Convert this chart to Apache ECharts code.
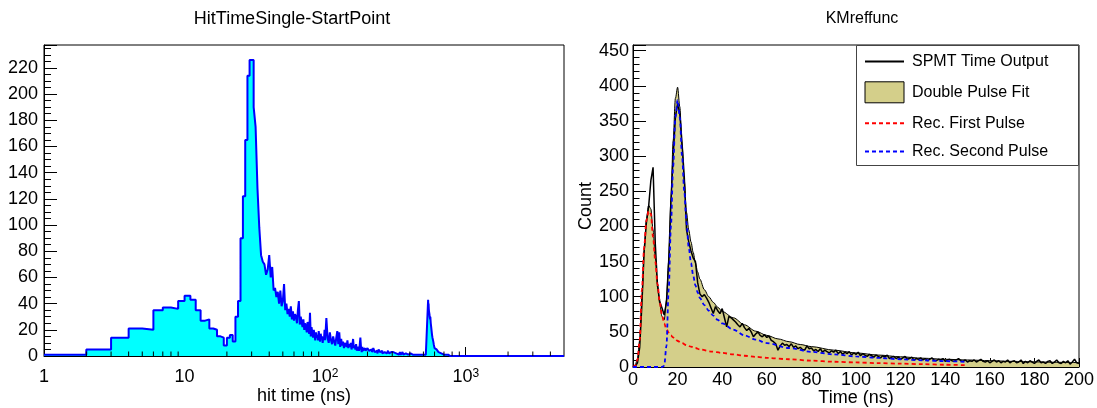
<!DOCTYPE html>
<html><head><meta charset="utf-8">
<script src="https://cdn.jsdelivr.net/npm/echarts@6/dist/echarts.min.js"></script>
<style>html,body{margin:0;padding:0;background:#fff}#c{width:1097px;height:408px}</style>
</head><body><div id="c"></div>
<script>
// ---------------- Left: HitTimeSingle-StartPoint (histogram, log x) ----------------
const leftTitle = 'HitTimeSingle-StartPoint';
const leftXName = 'hit time (ns)';
const histXMin = 1, histXMax = 5000;
// counts of 1 ns bins starting at 1 ns (1..100)
const hist1nsFrom1 = [
  1,5,14,21,20,35,37,36,42,46,
  43,35,27,28,21,20,15,14,8,14,
  16,11,30,42,90,122,165,214,226,226,
  190,175,128,98,77,72,70,62,66,77,
  60,68,50,52,45,49,40,50,38,42,
  55,35,40,32,36,30,38,28,34,27,
  32,30,25,35,42,24,30,26,22,28,
  20,25,22,18,26,20,17,33,15,22,
  18,14,20,16,12,18,14,16,12,19,
  14,11,17,13,15,10,14,12,20
];
// 2 ns bins from 100 to 200
const hist2nsFrom100 = [
  12,29,14,10,18,12,9,15,11,8,
  14,19,9,18,7,13,8,11,6,10,
  9,7,12,6,9,7,10,5,8,13,
  6,8,5,9,4,7,6,4,8,14,
  6,3,7,4,5,3,6,4,3,5
];
// 5 ns bins from 200 to 540
const hist5nsFrom200 = [
  6,4,5,3,6,3,4,2,5,3,
  4,2,3,4,2,3,4,2,3,2,
  3,2,4,2,2,3,1,2,3,1,
  2,3,1,2,2,1,3,1,2,1,
  2,1,3,1,2,1,2,1,2,1,
  1,2,1,2,1,1,2,1,1,2,
  1,2,1,1,2,1,1,1
];
const hist2nsFrom540 = [43,38,40,36,34,35,32,30,31,28];
const hist4nsFrom560 = [30,25,22,19,16,14,13,11,9,8];
const hist10nsFrom600 = [6,5,4,4,3,2,2,1,2,1];
const hist25nsFrom700 = [1,1,0,1,0,1,0,0,0,0,0,0];
const histTail = [[1000, 0]];
const logMinorTickValues = [2,3,4,5,6,7,8,9,20,30,40,50,60,70,80,90,200,300,400,500,600,700,800,900,2000,3000,4000];

// ---------------- Right: KMreffunc ----------------
const rightTitle = 'KMreffunc';
const rightXName = 'Time (ns)';
const rightYName = 'Count';
// SPMT Time Output, one value per ns, t = 0..200
const spmtCounts = [
  0,1,6,28,90,165,205,228,265,284,
  175,115,93,84,74,92,150,235,300,355,
  375,360,318,270,195,178,165,155,150,120,
  104,100,103,98,92,84,76,86,80,76,
  83,70,57,72,70,67,64,60,57,62,
  56,52,55,50,43,47,50,45,43,46,
  42,44,38,36,33,24,30,34,31,32,
  29,33,28,30,26,28,25,24,30,26,
  27,23,25,22,26,21,24,22,20,23,
  21,24,19,22,18,21,19,22,17,20,
  18,21,16,19,17,15,18,16,14,17,
  15,13,16,14,17,12,14,15,12,14,
  11,13,15,11,12,14,10,12,11,13,
  10,12,9,11,13,10,9,11,10,12,
  8,10,11,9,8,10,12,9,8,10,
  7,9,8,10,7,9,11,8,7,9,
  6,8,10,7,9,6,8,7,10,6,
  8,9,6,7,10,5,8,6,9,7,
  5,8,10,6,7,5,8,9,5,7,
  10,6,5,8,6,9,4,7,11,6,
  5
];
const fitTimes = [0,1,2,3,4,5,6,7,8,9,10,11,12,13,14,15,16,17,18,19,20,21,22,23,24,25,26,27,28,29,30,32,34,36,38,40,45,50,55,60,65,70,75,80,90,100,110,120,130,140,150,160,170,180,190,200];
const fitCounts = [0,3,12,38,100,165,210,230,225,195,155,118,90,72,67,95,150,238,322,382,398,370,315,265,220,195,178,163,148,135,125,110,100,92,85,79,70,60,51,45,40,36,32,29,24,20,17,14.5,12.5,11,10,9,8,7.3,6.7,6.2];
const redTimes = [0,1,2,3,4,5,6,7,8,9,10,11,12,13,14,15,16,17,18,19,20,22,24,26,28,30,35,40,45,50,55,60,70,80,90,100,110,120,130,140,150];
const redCounts = [0,2,10,38,110,170,208,222,218,185,150,118,92,74,62,54,49,45,42,40,37,34,31,29,27,25,22,20,18,16,14.5,13,11,9,7.5,6.5,5.5,4.8,4,3.2,2.5];
const blueTimes = [0,13,14,15,16,17,18,19,20,21,22,23,24,25,26,27,28,29,30,32,34,36,38,40,45,50,55,60,70,80,90,100,110,120,130,140,150];
const blueCounts = [0,0,2,30,110,200,285,355,380,355,300,250,205,170,148,130,116,106,98,88,80,73,67,62,53,45,39,34,27,21.5,18,15,13,11,9.5,8.3,7.3];
const legendNames = ['SPMT Time Output','Double Pulse Fit','Rec. First Pulse','Rec. Second Pulse'];

// ---------------- build ----------------
const FONT = '"Liberation Sans", Arial, Helvetica, sans-serif';
const histSegments = [
  {start:1, width:1, counts:hist1nsFrom1},
  {start:100, width:2, counts:hist2nsFrom100},
  {start:200, width:5, counts:hist5nsFrom200},
  {start:540, width:2, counts:hist2nsFrom540},
  {start:560, width:4, counts:hist4nsFrom560},
  {start:600, width:10, counts:hist10nsFrom600},
  {start:700, width:25, counts:hist25nsFrom700}
];
const histPoints = [];
histSegments.forEach(s => s.counts.forEach((c,i) => histPoints.push([s.start + i*s.width, c])));
histTail.forEach(p => histPoints.push(p));
histPoints.push([histXMax, 0]);

const zip = (a,b) => a.map((v,i) => [v, b[i]]);
const spmtPoints = spmtCounts.map((v,i) => [i, v]);
const noSymbol = {color:'rgba(0,0,0,0)', borderWidth:0, opacity:0};

const chart = echarts.init(document.getElementById('c'), null, {renderer:'canvas'});
const axisLineStyle = {color:'#000', width:1};
const option = {
  animation:false,
  textStyle:{fontFamily:FONT, color:'#000'},
  title:[
    {text:leftTitle, left:292, top:10, textAlign:'center', padding:0,
     textStyle:{fontFamily:FONT, fontSize:18, fontWeight:'normal', color:'#000'}},
    {text:rightTitle, left:862, top:11, textAlign:'center', padding:0,
     textStyle:{fontFamily:FONT, fontSize:16, fontWeight:'normal', color:'#000'}}
  ],
  grid:[
    {left:44, top:45, right:533, bottom:52, show:true, borderColor:'#000', borderWidth:1, backgroundColor:'transparent', outerBoundsMode:'none', containLabel:false},
    {left:633, top:45, right:18, bottom:41, show:true, borderColor:'#000', borderWidth:1, backgroundColor:'transparent', outerBoundsMode:'none', containLabel:false}
  ],
  xAxis:[
    {type:'log', logBase:10, gridIndex:0, min:histXMin, max:histXMax,
     name:leftXName, nameLocation:'middle', nameGap:31, nameMoveOverlap:false,
     nameTextStyle:{fontFamily:FONT, fontSize:18, color:'#000'},
     axisLine:{show:true, lineStyle:axisLineStyle},
     axisTick:{show:true, inside:true, length:9, lineStyle:{color:'#000'}},
     splitLine:{show:false}, minorTick:{show:false},
     axisLabel:{margin:12, fontFamily:FONT, fontSize:18, color:'#000', showMaxLabel:false,
       formatter:function(v){
         const l = Math.log10(v), e = Math.round(l);
         if (Math.abs(l-e) > 1e-6) return '';
         if (e === 0) return '{b|1}';
         if (e === 1) return '{b|10}';
         return '{b|10}{sup|' + e + '}';
       },
       rich:{b:{fontFamily:FONT, fontSize:18, color:'#000', lineHeight:18},
             sup:{fontFamily:FONT, fontSize:12, color:'#000', lineHeight:11, verticalAlign:'top'}}}
    },
    {type:'value', gridIndex:1, min:0, max:200, interval:20,
     name:rightXName, nameLocation:'middle', nameGap:22, nameMoveOverlap:false,
     nameTextStyle:{fontFamily:FONT, fontSize:18, color:'#000'},
     axisLine:{show:true, lineStyle:axisLineStyle},
     axisTick:{show:true, inside:true, length:9, lineStyle:{color:'#000'}},
     minorTick:{show:true, splitNumber:4, length:4.5, lineStyle:{color:'#000'}},
     splitLine:{show:false},
     axisLabel:{margin:4, fontFamily:FONT, fontSize:18, color:'#000'}
    }
  ],
  yAxis:[
    {type:'value', gridIndex:0, min:0, max:237.5, interval:20,
     axisLine:{show:true, lineStyle:axisLineStyle},
     axisTick:{show:true, inside:true, length:13, lineStyle:{color:'#000'}},
     minorTick:{show:true, splitNumber:4, length:7, lineStyle:{color:'#000'}},
     splitLine:{show:false},
     axisLabel:{margin:6, fontFamily:FONT, fontSize:18, color:'#000', showMaxLabel:false}
    },
    {type:'value', gridIndex:1, min:0, max:458, interval:50,
     name:rightYName, nameLocation:'middle', nameGap:38, nameRotate:90, nameMoveOverlap:false,
     nameTextStyle:{fontFamily:FONT, fontSize:18, color:'#000'},
     axisLine:{show:true, lineStyle:axisLineStyle},
     axisTick:{show:true, inside:true, length:13, lineStyle:{color:'#000'}},
     minorTick:{show:true, splitNumber:5, length:6.5, lineStyle:{color:'#000'}},
     splitLine:{show:false},
     axisLabel:{margin:4, fontFamily:FONT, fontSize:18, color:'#000', showMaxLabel:false}
    }
  ],
  legend:{
    show:true, orient:'vertical', left:864, top:53, padding:0, itemGap:11.5,
    itemWidth:39, itemHeight:21, z:200, selectedMode:false,
    textStyle:{fontFamily:FONT, fontSize:16, color:'#000', padding:[0,0,0,3]},
    data:[
      {name:legendNames[0], itemStyle:noSymbol},
      {name:legendNames[1], icon:'rect', itemStyle:{color:'#d4cf8a', borderColor:'#000', borderWidth:1}},
      {name:legendNames[2], itemStyle:noSymbol},
      {name:legendNames[3], itemStyle:noSymbol}
    ]
  },
  graphic:[
    {type:'rect', z:100, shape:{x:856.5, y:45.5, width:222, height:120},
     style:{fill:'#fff', stroke:'#444', lineWidth:1}}
  ],
  series:[
    {type:'line', xAxisIndex:0, yAxisIndex:0, data:histPoints, step:'end',
     symbol:'none', silent:true, clip:true,
     lineStyle:{color:'#0000ff', width:2},
     areaStyle:{color:'#00ffff', opacity:1}, z:2},
    {type:'custom', xAxisIndex:0, yAxisIndex:0, silent:true, clip:false, z:6,
     data:logMinorTickValues.map(v => [v, 0]),
     renderItem:function(params, api){
       const p = api.coord([api.value(0), 0]);
       return {type:'line', shape:{x1:p[0], y1:p[1], x2:p[0], y2:p[1]-4.5},
               style:{stroke:'#000', lineWidth:1}};
     }},
    {name:legendNames[1], type:'line', xAxisIndex:1, yAxisIndex:1, data:zip(fitTimes, fitCounts),
     symbol:'none', smooth:0.3, smoothMonotone:'x', silent:true, clip:true,
     itemStyle:{color:'#d4cf8a'},
     lineStyle:{color:'#000', width:1},
     areaStyle:{color:'#d4cf8a', opacity:1}, z:2},
    {name:legendNames[0], type:'line', xAxisIndex:1, yAxisIndex:1, data:spmtPoints,
     symbol:'none', silent:true, clip:true,
     itemStyle:{color:'#000'}, lineStyle:{color:'#000', width:1.5}, z:3},
    {name:legendNames[2], type:'line', xAxisIndex:1, yAxisIndex:1, data:zip(redTimes, redCounts),
     symbol:'none', smooth:0.3, smoothMonotone:'x', silent:true, clip:true,
     itemStyle:{color:'#ff0000'}, lineStyle:{color:'#ff0000', width:1.8, type:[4,3]}, z:4},
    {name:legendNames[3], type:'line', xAxisIndex:1, yAxisIndex:1, data:zip(blueTimes, blueCounts),
     symbol:'none', smooth:0.3, smoothMonotone:'x', silent:true, clip:true,
     itemStyle:{color:'#0000ff'}, lineStyle:{color:'#0000ff', width:1.8, type:[4,3]}, z:4}
  ]
};
chart.setOption(option);
</script>
</body></html>
